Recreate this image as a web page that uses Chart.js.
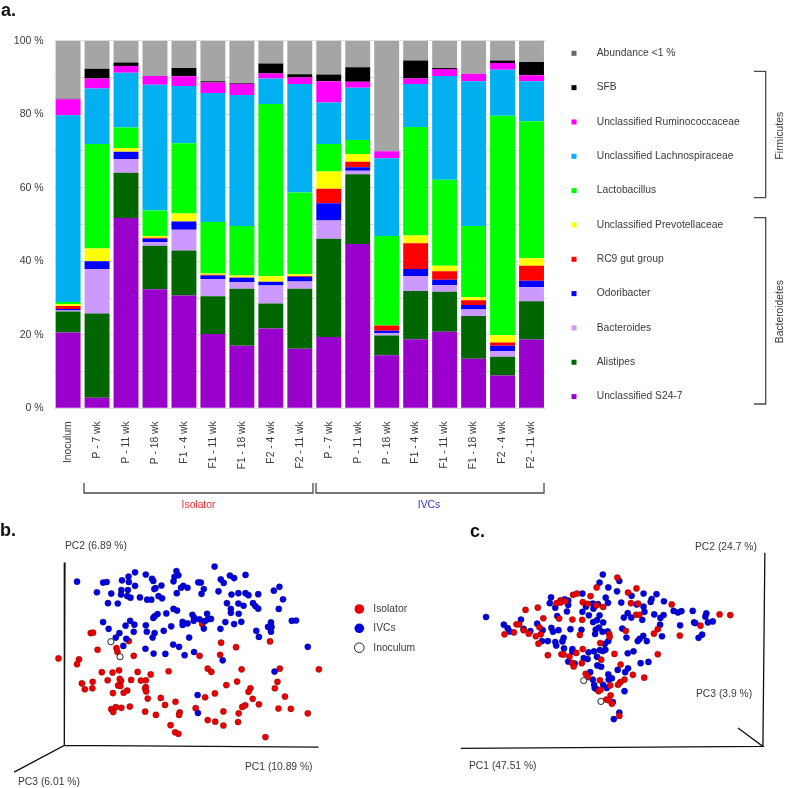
<!DOCTYPE html>
<html>
<head>
<meta charset="utf-8">
<title>Microbiota composition and PCoA</title>
<script src="https://cdn.jsdelivr.net/npm/chart.js@4/dist/chart.umd.min.js"></script>
<style>
  html, body { margin: 0; padding: 0; background: #fff; }
  #page { position: relative; width: 787px; height: 788px; overflow: hidden; }
  canvas { position: absolute; display: block; }
</style>
</head>
<body>
<div id="page">
  <canvas id="chart-a" width="787" height="515" style="left:0;top:0"></canvas>
  <canvas id="chart-b" width="450" height="273" style="left:0;top:515px"></canvas>
  <canvas id="chart-c" width="337" height="273" style="left:450px;top:515px"></canvas>
</div>
<script>
const samples = ["Inoculum", "P - 7 wk", "P - 11 wk", "P - 18 wk", "F1 - 4 wk", "F1 - 11 wk", "F1 - 18 wk", "F2 - 4 wk", "F2 - 11 wk",
  "P - 7 wk", "P - 11 wk", "P - 18 wk", "F1 - 4 wk", "F1 - 11 wk", "F1 - 18 wk", "F2 - 4 wk", "F2 - 11 wk"];

// Relative abundance in %, one value per sample
const s247 = [20.6, 2.9, 51.8, 32.4, 30.7, 20.2, 17.0, 21.7, 16.2, 19.4, 44.7, 14.4, 18.8, 20.8, 13.5, 8.9, 18.7];
const alistipes = [5.7, 22.9, 12.3, 11.8, 12.2, 10.3, 15.5, 6.8, 16.3, 26.7, 19.0, 5.4, 13.1, 10.9, 11.6, 5.1, 10.4];
const bacteroides = [0.3, 12.1, 3.7, 1.0, 5.7, 4.7, 1.8, 4.9, 2.0, 5.0, 0.9, 0.6, 4.1, 1.8, 1.8, 1.5, 3.8];
const odoribacter = [0.4, 2.1, 2.0, 0.9, 2.2, 0.9, 1.2, 1.0, 1.3, 4.7, 1.0, 0.7, 1.9, 1.5, 1.2, 1.5, 1.8];
const rc9 = [0.8, 0, 0, 0.3, 0, 0.2, 0.1, 0, 0.2, 3.9, 1.5, 1.4, 7.0, 2.3, 1.3, 0.9, 4.1];
const prevotellaceae = [0.5, 3.5, 1.0, 0.5, 2.2, 0.4, 0.5, 1.5, 0.5, 4.7, 2.1, 0, 2.1, 1.5, 0.8, 2.0, 2.0];
const lactobacillus = [0.6, 28.4, 5.6, 6.9, 19.1, 14.0, 13.5, 46.9, 22.2, 7.5, 3.8, 24.4, 29.5, 23.4, 19.4, 59.7, 37.3];
const lachnospiraceae = [50.8, 15.1, 14.9, 34.2, 15.6, 35.1, 35.6, 6.9, 29.5, 11.3, 14.2, 21.1, 11.7, 28.2, 39.4, 12.5, 10.9];
const ruminococcaceae = [4.4, 2.7, 1.8, 2.4, 2.6, 2.8, 3.1, 1.4, 1.8, 5.8, 1.6, 1.9, 1.5, 1.9, 2.0, 1.8, 1.6];
const sfb = [0.1, 2.7, 1.0, 0, 2.3, 0.4, 0.2, 2.7, 0.9, 1.8, 4.0, 0, 4.9, 0.3, 0, 0.7, 3.6];
const rare = [15.8, 7.6, 5.9, 9.6, 7.4, 11.0, 11.5, 6.2, 9.1, 9.2, 7.2, 30.1, 5.4, 7.4, 9.0, 5.4, 5.8];

// PCoA scores, arbitrary units, y counted downwards
const isolatorB = [[143,247],[150,246],[260,272],[222,294],[225,306],[275,318],[164,299],[44,326],[107,329],[101,344],[485,219],[543,277],[589,291],[693,273],[477,318],[540,315],
  [177,369],[210,370],[230,363],[287,368],[327,376],[382,366],[502,358],[513,368],[606,360],[723,358],[843,360],[116,404],[149,399],[195,394],[232,390],[236,396],[267,393],[297,395],[312,394],
  [125,422],[148,419],[227,410],[234,412],[312,415],[310,420],[313,429],[255,426],[244,433],[211,434],[318,451],[358,449],[403,461],[371,471],[494,447],[524,435],[559,409],[592,398],[633,419],
  [627,430],[640,452],[659,469],[617,472],[608,477],[716,399],[708,419],[739,445],[719,482],[757,483],[809,497],[263,476],[237,480],[220,478],[206,484],[212,493],[310,492],[343,502],[465,481],
  [416,494],[414,502],[550,491],[597,497],[502,518],[525,523],[550,535],[595,524],[388,534],[402,556],[412,561],[679,571]];
const ivcB = [[101,87],[181,90],[192,88],[239,83],[259,71],[260,88],[279,58],[279,100],[312,65],[331,78],[335,85],[406,54],[412,67],[400,72],[397,86],[360,99],[342,107],[338,110],[237,113],[257,113],
  [162,120],[206,124],[236,127],[255,132],[265,137],[294,136],[316,143],[329,143],[351,132],[362,139],[196,154],[226,155],[420,106],[427,100],[440,106],[407,123],[473,89],[481,90],[490,110],[483,125],
  [523,40],[542,80],[551,91],[535,117],[570,68],[583,76],[618,66],[575,127],[596,123],[618,123],[627,129],[657,126],[705,115],[722,103],[733,142],[561,154],[596,155],[612,162],[641,154],[648,163],
  [657,171],[720,172],[573,172],[573,184],[597,187],[500,187],[503,204],[512,203],[455,190],[461,200],[477,204],[459,209],[493,210],[440,217],[425,212],[425,222],[397,172],[408,177],[375,186],[348,188],
  [339,195],[335,200],[181,213],[264,209],[277,221],[250,224],[312,223],[198,234],[231,247],[220,261],[275,243],[315,243],[339,247],[333,261],[367,240],[390,226],[490,233],[541,234],[556,213],[583,219],
  [605,212],[651,240],[659,259],[696,214],[698,228],[687,228],[696,243],[760,209],[773,208],[445,261],[252,265],[243,287],[311,296],[336,311],[372,312],[396,283],[414,290],[431,316],[460,306],[548,332],
  [809,290],[707,367],[471,440],[472,496]];
const inoculumB = [[205,274],[233,321]];

const isolatorC = [[472,74],[408,105],[531,108],[505,121],[335,128],[347,124],[389,132],[296,145],[284,154],[296,152],[311,148],[365,151],[380,156],[407,161],[428,166],[514,154],[536,155],[530,190],[540,190],[640,158],
  [188,175],[226,168],[243,201],[292,202],[333,205],[363,206],[160,220],[168,220],[231,229],[182,238],[123,251],[152,245],[198,249],[220,257],[235,251],[228,280],[356,253],[447,250],[448,259],[498,240],
  [585,249],[597,235],[665,255],[729,224],[788,189],[821,191],[257,316],[299,313],[306,314],[324,320],[345,309],[365,297],[419,278],[463,312],[597,313],[422,330],[362,341],[332,340],[337,351],[482,345],
  [520,377],[555,386],[494,392],[481,400],[474,408],[450,410],[374,374],[381,384],[418,394],[414,428],[420,424],[451,441],[438,454],[445,456],[455,467],[478,505]];
const ivcC = [[66,197],[121,221],[133,232],[139,242],[174,205],[182,234],[203,241],[224,218],[241,238],[239,272],[257,272],[267,136],[263,154],[280,168],[286,194],[268,231],[273,243],[290,238],[327,235],[361,237],
  [309,142],[320,146],[320,160],[316,180],[364,124],[364,181],[375,165],[396,155],[398,171],[412,157],[384,192],[417,192],[443,153],[436,137],[484,152],[471,117],[444,105],[417,90],[427,65],[478,85],
  [516,131],[553,124],[532,158],[553,165],[556,181],[504,185],[492,199],[515,199],[549,206],[586,189],[605,200],[615,191],[578,141],[575,150],[593,126],[616,148],[646,178],[659,183],[670,179],[705,178],
  [747,186],[744,196],[709,214],[713,216],[752,214],[767,211],[666,223],[604,221],[734,252],[723,262],[610,257],[552,256],[541,265],[535,272],[563,272],[500,261],[487,233],[428,214],[397,213],[409,207],
  [415,230],[405,236],[403,250],[426,243],[442,242],[444,272],[433,281],[306,262],[302,273],[280,275],[283,286],[307,295],[333,297],[333,305],[383,307],[400,304],[418,300],[427,303],[435,299],[409,321],
  [368,325],[380,328],[320,336],[340,342],[504,310],[522,304],[544,341],[568,337],[410,348],[422,352],[473,362],[505,357],[496,369],[444,376],[388,369],[396,392],[445,392],[455,388],[400,408],[402,418],
  [408,422],[428,408],[439,418],[494,428],[458,462],[478,495],[461,515]];
const inoculumC = [[368,395],[421,460]];

// Frame of the fake 3D axes, same units as the scores
const axesB = [[64, 27], [62, 597], [842, 602], [62, 597], [-92, 680]];
const axesC = [[928, -3], [922, 600], [-12, 606], [922, 600], [845, 543]];

const FONT = '"Liberation Sans", Arial, sans-serif';
const TEXT = "#3a3a3a";
const RED = "#ee0000";
const BLUE = "#0000e6";

let label = (ctx, text, x, y, opts = {}) => {
  ctx.save();
  ctx.font = (opts.bold ? "bold " : "") + (opts.size || 10.3) + "px " + FONT;
  ctx.fillStyle = opts.color || TEXT;
  ctx.textAlign = opts.align || "left";
  ctx.textBaseline = "middle";
  ctx.translate(x, y);
  if (opts.rotate) ctx.rotate(opts.rotate);
  ctx.fillText(text, 0, 0);
  ctx.restore();
};

let path = (ctx, points, color = "#4a4a4a", width = 1.3) => {
  ctx.save();
  ctx.strokeStyle = color;
  ctx.lineWidth = width;
  ctx.beginPath();
  points.forEach(([x, y], i) => (i ? ctx.lineTo(x, y) : ctx.moveTo(x, y)));
  ctx.stroke();
  ctx.restore();
};

// Composition chart
const taxa = [
  ["Unclassified S24-7", s247, "#9900cc"],
  ["Alistipes", alistipes, "#006600"],
  ["Bacteroides", bacteroides, "#cc99ff"],
  ["Odoribacter", odoribacter, "#0000ff"],
  ["RC9 gut group", rc9, "#ff0000"],
  ["Unclassified Prevotellaceae", prevotellaceae, "#ffff00"],
  ["Lactobacillus", lactobacillus, "#00ff00"],
  ["Unclassified Lachnospiraceae", lachnospiraceae, "#00b0f0"],
  ["Unclassified Ruminococcaceae", ruminococcaceae, "#ff00ff"],
  ["SFB", sfb, "#000000"],
  ["Abundance <1 %", rare, "#a5a5a5"],
];

const annotateA = {
  id: "annotateA",
  afterDraw(chart) {
    const ctx = chart.ctx;
    label(ctx, "a.", 1, 11, { bold: true, size: 18, color: "#111" });

    chart.data.datasets.slice().reverse().forEach((ds, i) => {
      const y = 53.3 + i * 34.33;
      ctx.fillStyle = ds.label.startsWith("Abundance") ? "#666666" : ds.backgroundColor;
      ctx.fillRect(571.5, y - 2.5, 5, 5);
      label(ctx, ds.label, 596.7, y);
    });

    path(ctx, [[754, 71.3], [765.7, 71.3], [765.7, 197.7], [754, 197.7]]);
    path(ctx, [[754, 217.7], [765.7, 217.7], [765.7, 404], [754, 404]]);
    label(ctx, "Firmicutes", 780, 135.7, { rotate: -Math.PI / 2, align: "center" });
    label(ctx, "Bacteroidetes", 780, 311.7, { rotate: -Math.PI / 2, align: "center" });

    path(ctx, [[84, 483], [84, 493], [313, 493], [313, 483]]);
    path(ctx, [[316, 483], [316, 493], [544, 493], [544, 483]]);
    label(ctx, "Isolator", 198.5, 505, { color: "#f03030", align: "center" });
    label(ctx, "IVCs", 429, 505, { color: "#3030e0", align: "center" });
  },
};

new Chart(document.getElementById("chart-a"), {
  type: "bar",
  data: {
    labels: samples,
    datasets: taxa.map(([name, values, color]) => ({
      label: name,
      data: values,
      backgroundColor: color,
      barPercentage: 0.86,
      categoryPercentage: 1,
    })),
  },
  options: {
    responsive: false,
    animation: false,
    events: [],
    layout: { padding: { left: 0, top: 40.7, right: 241, bottom: 0 } },
    plugins: { legend: { display: false }, tooltip: { enabled: false } },
    scales: {
      x: {
        stacked: true,
        afterFit: (scale) => { scale.height = 106.7; },
        grid: { display: false },
        border: { display: false },
        ticks: { autoSkip: false, minRotation: 90, maxRotation: 90, padding: 5, color: TEXT, font: { family: FONT, size: 10.3 } },
      },
      y: {
        stacked: true,
        min: 0,
        max: 100,
        afterFit: (scale) => { scale.width = 53.6; },
        grid: { color: "#dedede", lineWidth: 1, drawTicks: false },
        border: { display: false },
        ticks: {
          stepSize: 10,
          padding: 10,
          color: TEXT,
          font: { family: FONT, size: 10.5 },
          callback: (v) => (v % 20 === 0 ? v + " %" : ""),
        },
      },
    },
  },
  plugins: [annotateA],
});

// PCoA charts
let points = (list) => list.map(([x, y]) => ({ x, y }));

let cloud = (name, list, fill, edge) => ({
  label: name,
  data: points(list),
  backgroundColor: fill,
  borderColor: edge,
  borderWidth: 0.6,
  pointRadius: 3.1,
});

// first dataset in the list ends up on top
let pcoa = (id, inoculum, ivc, isolator, axes, range, plugin, redOnTop) => {
  const open = cloud("Inoculum", inoculum, "#ffffff", "#222222");
  open.borderWidth = 1;
  const blueCloud = cloud("IVCs", ivc, BLUE, "rgba(0,0,70,0.6)");
  const redCloud = cloud("Isolator", isolator, RED, "rgba(80,0,0,0.6)");
  new Chart(document.getElementById(id), {
    type: "scatter",
    data: {
      datasets: [
        open,
        ...(redOnTop ? [redCloud, blueCloud] : [blueCloud, redCloud]),
        {
          label: "axes",
          data: points(axes),
          showLine: true,
          borderColor: "#111111",
          borderWidth: 1.3,
          pointRadius: 0,
        },
      ],
    },
    options: {
      responsive: false,
      animation: false,
      events: [],
      layout: { padding: 0 },
      plugins: { legend: { display: false }, tooltip: { enabled: false } },
      scales: {
        x: { type: "linear", display: false, min: range[0], max: range[1] },
        y: { type: "linear", display: false, reverse: true, min: range[2], max: range[3] },
      },
    },
    plugins: [plugin],
  });
};

const annotateB = {
  id: "annotateB",
  afterDraw(chart) {
    const ctx = chart.ctx;
    label(ctx, "b.", 0, 16, { bold: true, size: 18, color: "#111" });
    label(ctx, "PC2 (6.89 %)", 65, 31);
    label(ctx, "PC1 (10.89 %)", 245, 251.7);
    label(ctx, "PC3 (6.01 %)", 18, 266.7);

    [["Isolator", RED, 94], ["IVCs", BLUE, 113.3], ["Inoculum", "#ffffff", 132.7]].forEach(([name, color, y]) => {
      ctx.beginPath();
      ctx.arc(359.3, y, 4.8, 0, Math.PI * 2);
      ctx.fillStyle = color;
      ctx.fill();
      if (name === "Inoculum") {
        ctx.strokeStyle = "#222";
        ctx.lineWidth = 1;
        ctx.stroke();
      }
      label(ctx, name, 373.3, y);
    });
  },
};

const annotateC = {
  id: "annotateC",
  afterDraw(chart) {
    const ctx = chart.ctx;
    label(ctx, "c.", 20, 17, { bold: true, size: 18, color: "#111" });
    label(ctx, "PC2 (24.7 %)", 245, 32);
    label(ctx, "PC3 (3.9 %)", 246, 179.5);
    label(ctx, "PC1 (47.51 %)", 19, 251.5);
  },
};

pcoa("chart-b", inoculumB, ivcB, isolatorB, axesB, [-120, 1230, -105, 714], annotateB, false);
pcoa("chart-c", inoculumC, ivcC, isolatorC, axesC, [-30, 981, -105, 714], annotateC, true);
</script>
</body>
</html>
